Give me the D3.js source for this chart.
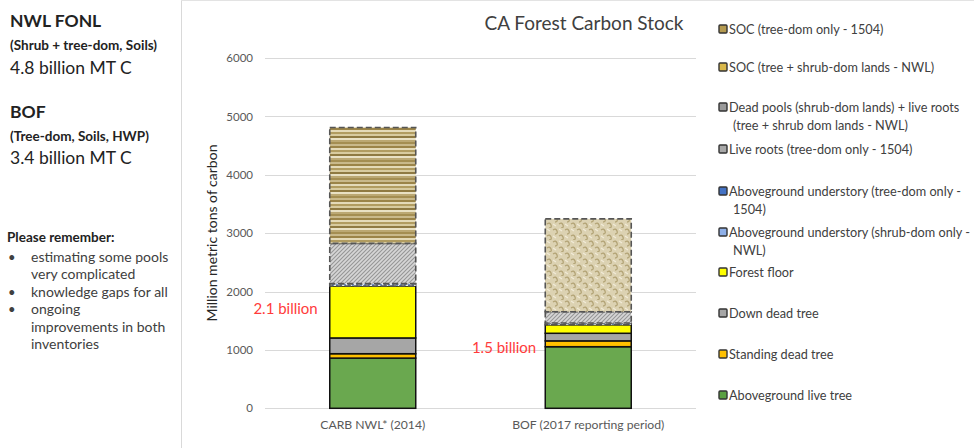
<!DOCTYPE html>
<html><head><meta charset="utf-8">
<script src="https://cdn.jsdelivr.net/npm/d3@7/dist/d3.min.js"></script>
<style>
html,body{margin:0;padding:0;background:#fff;}
svg{display:block;font-family:Lato,"Liberation Sans",sans-serif;}
</style></head>
<body><svg id="c" width="974" height="448"></svg>
<script>
// ---- data ----
const categories = ["CARB NWL* (2014)", "BOF (2017 reporting period)"];
const seriesNames = [
  "Aboveground live tree",
  "Standing dead tree",
  "Down dead tree",
  "Forest floor",
  "Aboveground understory (shrub-dom only - NWL)",
  "Aboveground understory (tree-dom only - 1504)",
  "Live roots (tree-dom only - 1504)",
  "Dead pools (shrub-dom lands) + live roots (tree + shrub dom lands - NWL)",
  "SOC (tree + shrub-dom lands - NWL)",
  "SOC (tree-dom only - 1504)"
];
const liveTree     = [860, 1055];
const standingDead = [75, 100];
const downDead     = [270, 130];
const forestFloor  = [890, 145];
const underShrub   = [40, 0];
const underTree    = [0, 30];
const liveRoots    = [0, 195];
const deadPools    = [690, 0];
const socNWL       = [1985, 0];
const socTree      = [0, 1590];
const yTicks = [0, 1000, 2000, 3000, 4000, 5000, 6000];
const barLabels = ["2.1 billion", "1.5 billion"];
const legendLines = [
  ["SOC (tree-dom only - 1504)"],
  ["SOC (tree + shrub-dom lands - NWL)"],
  ["Dead pools (shrub-dom lands) + live roots", "(tree + shrub dom lands - NWL)"],
  ["Live roots (tree-dom only - 1504)"],
  ["Aboveground understory (tree-dom only -", "1504)"],
  ["Aboveground understory (shrub-dom only -", "NWL)"],
  ["Forest floor"],
  ["Down dead tree"],
  ["Standing dead tree"],
  ["Aboveground live tree"]
];
const seriesValues = [liveTree, standingDead, downDead, forestFloor, underShrub, underTree, liveRoots, deadPools, socNWL, socTree];

// ---- setup ----
const svg = d3.select("#c");
const defs = svg.append("defs");

// patterns
const pStripe = defs.append("pattern").attr("id","pStripe").attr("patternUnits","userSpaceOnUse").attr("width",8).attr("height",18);
const stripeCols = ["#c9b98b","#9b8448","#e4dab8","#b19c60","#d8cb9f","#8f7a42","#e9e1c4","#bba873","#a48e52"];
let sy=0; stripeCols.forEach((c,i)=>{pStripe.append("rect").attr("x",0).attr("y",sy).attr("width",8).attr("height",2).attr("fill",c); sy+=2;});

const pHatch = defs.append("pattern").attr("id","pHatch").attr("patternUnits","userSpaceOnUse").attr("width",4).attr("height",4);
pHatch.append("rect").attr("width",4).attr("height",4).attr("fill","#d6d6d6");
pHatch.append("path").attr("d","M-1,1 L1,-1 M0,4 L4,0 M3,5 L5,3").attr("stroke","#969696").attr("stroke-width",1.1);

const pTex = defs.append("pattern").attr("id","pTex").attr("patternUnits","userSpaceOnUse").attr("width",12).attr("height",12);
pTex.append("rect").attr("width",12).attr("height",12).attr("fill","#dcd2b2");
pTex.append("path").attr("d","M1,2 Q4,0 5,3 Q6,6 3,6 M7,8 Q10,6 11,9 Q12,12 9,12").attr("fill","none").attr("stroke","#b3a476").attr("stroke-width",1.3);
pTex.append("path").attr("d","M7,1 L10,3 M1,8 L4,10").attr("stroke","#f1ebd8").attr("stroke-width",1.2);

const pBlue = defs.append("pattern").attr("id","pBlue").attr("patternUnits","userSpaceOnUse").attr("width",4).attr("height",4);
pBlue.append("rect").attr("width",4).attr("height",4).attr("fill","#dfe8f5");
pBlue.append("rect").attr("width",2).attr("height",2).attr("fill","#6f8fc7");

const fills = ["#6aa84f","#ffc000","#a6a6a6","#ffff00","url(#pBlue)","url(#pBlue)","url(#pHatch)","url(#pHatch)","url(#pStripe)","url(#pTex)"];
const dashed = [false,false,false,false,true,true,true,true,true,true];
const legendFill = ["#b49a50","#d9b84a","#9a9a9a","#a8a8a8","#4472c4","#8fb0e8","#ffff00","#a6a6a6","#ffc000","#5aa040"];
const legendOrder = [9,8,7,6,5,4,3,2,1,0];

// frame
svg.append("line").attr("x1",181.5).attr("x2",181.5).attr("y1",0).attr("y2",448).attr("stroke","#d9d9d9");
svg.append("line").attr("x1",181).attr("x2",974).attr("y1",0.5).attr("y2",0.5).attr("stroke","#e3e3e3");

// scales
const y = d3.scaleLinear().domain([0,6000]).range([408.3,58]);
const x = d3.scaleBand().domain(categories).range([265,696]).paddingInner(0.601).paddingOuter(0.3005);

// grid
svg.append("g").selectAll("line").data(yTicks).join("line")
  .attr("x1",265).attr("x2",696).attr("y1",d=>Math.round(y(d))+0.5).attr("y2",d=>Math.round(y(d))+0.5)
  .attr("stroke","#d9d9d9").attr("stroke-width",1.2);

// y axis labels
const yAxis = d3.axisLeft(y).tickValues(yTicks).tickSize(0).tickPadding(0).tickFormat(d3.format("d"));
const ga = svg.append("g").attr("transform","translate(253,0)").call(yAxis);
ga.select(".domain").remove();
ga.selectAll("text").attr("font-family","Lato,sans-serif").attr("font-size",11.5).attr("fill","#595959");

// axis title
svg.append("text").attr("transform","translate(217,233) rotate(-90)").attr("text-anchor","middle")
  .attr("font-size",14).attr("fill","#262626").text("Million metric tons of carbon");

// stack
const table = categories.map((c,i)=>{const o={cat:c}; seriesNames.forEach((s,j)=>o[s]=seriesValues[j][i]); return o;});
const stacked = d3.stack().keys(seriesNames)(table);
const gb = svg.append("g");
stacked.forEach((layer,li)=>{
  gb.append("g").selectAll("rect").data(layer.filter(d=>d[1]-d[0]>0)).join("rect")
    .attr("x",d=>x(d.data.cat)).attr("width",x.bandwidth())
    .attr("y",d=>y(d[1])).attr("height",d=>y(d[0])-y(d[1]))
    .attr("fill",fills[li])
    .attr("stroke",dashed[li]?"#555":"#111")
    .attr("stroke-width",dashed[li]?1.6:1.5)
    .attr("stroke-dasharray",dashed[li]?"6,3":null);
});

// x labels
const xAxis = d3.axisBottom(x).tickSize(0).tickPadding(0);
const gx = svg.append("g").attr("transform","translate(0,417)").call(xAxis);
gx.select(".domain").remove();
gx.selectAll("text").attr("font-family","Lato,sans-serif").attr("font-size",12.2).attr("fill","#595959").attr("dy","1em");

// bar labels
svg.append("text").attr("x",x(categories[0])-12).attr("y",314).attr("text-anchor","end")
  .attr("font-size",15).attr("fill","#ff3b3b").text(barLabels[0]);
svg.append("text").attr("x",x(categories[1])-9).attr("y",353).attr("text-anchor","end")
  .attr("font-size",15).attr("fill","#ff3b3b").text(barLabels[1]);

// title
svg.append("text").attr("x",584).attr("y",30).attr("text-anchor","middle").attr("font-size",19).attr("fill","#404040").text("CA Forest Carbon Stock");

// legend
const legY = [30,68,108,150,192,233,273,314,355,396];
legendOrder.forEach((si,k)=>{
  const g = svg.append("g");
  g.append("rect").attr("x",719).attr("y",legY[k]-5).attr("width",8).attr("height",8)
    .attr("fill",legendFill[k]).attr("stroke","#333").attr("stroke-width",1.4).attr("rx",1);
  legendLines[k].forEach((t,li)=>{
    g.append("text").attr("x",li===0?729:733).attr("y",legY[k]+4+li*17.5).attr("font-size",12.7).attr("fill","#404040").text(t);
  });
});

// left panel
const lp = svg.append("g").attr("fill","#222");
lp.append("text").attr("x",10).attr("y",27).attr("font-size",17.5).attr("font-weight","bold").text("NWL FONL");
lp.append("text").attr("x",10).attr("y",50).attr("font-size",13.5).attr("font-weight","bold").text("(Shrub + tree-dom, Soils)");
lp.append("text").attr("x",10).attr("y",74).attr("font-size",17.5).text("4.8 billion MT C");
lp.append("text").attr("x",10).attr("y",118).attr("font-size",17.5).attr("font-weight","bold").text("BOF");
lp.append("text").attr("x",10).attr("y",141).attr("font-size",13.5).attr("font-weight","bold").text("(Tree-dom, Soils, HWP)");
lp.append("text").attr("x",10).attr("y",164).attr("font-size",17.5).text("3.4 billion MT C");
lp.append("text").attr("x",7).attr("y",242).attr("font-size",13.5).attr("font-weight","bold").text("Please remember:");
const notes = [["•","estimating some pools"],["","very complicated"],["•","knowledge gaps for all"],["•","ongoing"],["","improvements in both"],["","inventories"]];
notes.forEach((n,i)=>{
  const yy = 262 + i*17.4;
  if(n[0]) lp.append("text").attr("x",8).attr("y",yy).attr("font-size",13).attr("fill","#404040").text(n[0]);
  lp.append("text").attr("x",31).attr("y",yy).attr("font-size",14).attr("fill","#404040").text(n[1]);
});
</script></body></html>
